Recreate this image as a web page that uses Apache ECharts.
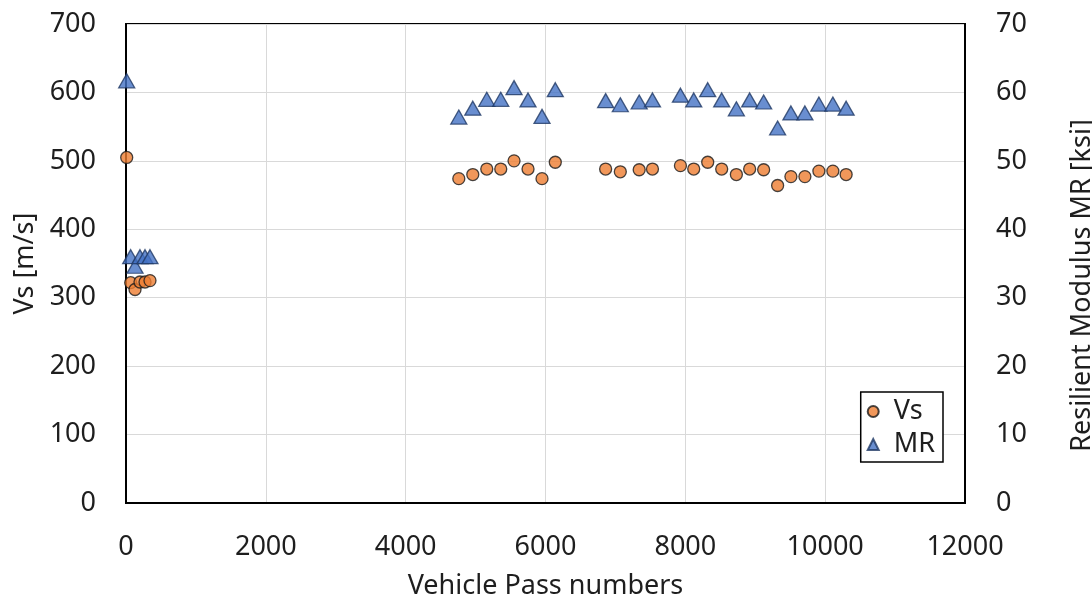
<!DOCTYPE html>
<html>
<head>
<meta charset="utf-8">
<script src="https://cdn.jsdelivr.net/npm/echarts@6/dist/echarts.min.js"></script>
<style>
html,body{margin:0;padding:0;background:#fff;}
#chart{width:1092px;height:605px;}
</style>
</head>
<body>
<div id="chart"></div>
<script>
// Data
const passNumbers = [10, 67, 129, 200, 272, 343, 4760, 4960, 5160, 5360, 5550, 5750, 5950, 6140, 6860, 7070, 7340, 7530, 7930, 8120, 8320, 8520, 8730, 8920, 9120, 9320, 9510, 9710, 9910, 10110, 10300];
const vsValues = [505, 322, 312, 323, 323, 325, 474, 480, 488, 488, 500, 488, 474, 498, 488, 484, 487, 488, 493, 488, 498, 488, 480, 488, 487, 464, 477, 477, 485, 485, 480];
const mrValues = [61.7, 36.0, 34.6, 36.0, 36.0, 36.0, 56.4, 57.7, 59.0, 59.0, 60.7, 58.9, 56.5, 60.4, 58.8, 58.2, 58.6, 58.9, 59.6, 58.9, 60.4, 58.9, 57.6, 58.9, 58.6, 54.8, 57.0, 57.0, 58.3, 58.3, 57.7];
const seriesNames = ['Vs', 'MR'];
const axisTitles = { x: 'Vehicle Pass numbers', yLeft: 'Vs [m/s]', yRight: 'Resilient Modulus MR [ksi]' };

const FONT = 'Noto Sans';
const TXT = '#1e1e1e';
const FS = 27;
const chart = echarts.init(document.getElementById('chart'), null, { renderer: 'canvas' });

const labelStyle = { color: TXT, fontFamily: FONT, fontSize: FS };
const gridLine = { show: true, lineStyle: { color: '#d9d9d9', width: 1 } };

chart.setOption({
  backgroundColor: '#fff',
  animation: false,
  grid: { left: 126, top: 24, right: 127, bottom: 102, outerBoundsMode: 'none', containLabel: false,
          show: true, borderColor: '#000', borderWidth: 2, backgroundColor: 'transparent' },
  legend: {
    orient: 'vertical',
    right: 149,
    bottom: 143,
    backgroundColor: '#fff',
    borderColor: '#000',
    borderWidth: 1.5,
    borderRadius: 0,
    padding: [6, 8, 4, 6],
    itemGap: 6,
    itemWidth: 11,
    itemHeight: 11,
    textStyle: { color: TXT, fontFamily: FONT, fontSize: FS, padding: [0, 0, 0, 10] },
    data: [
      { name: seriesNames[0], icon: 'circle' },
      { name: seriesNames[1], icon: 'triangle' }
    ]
  },
  xAxis: {
    type: 'value', min: 0, max: 12000, interval: 2000,
    name: axisTitles.x, nameLocation: 'middle', nameGap: 70,
    nameTextStyle: { color: TXT, fontFamily: FONT, fontSize: FS },
    axisLine: { show: true, lineStyle: { color: '#000', width: 2 } },
    axisTick: { show: false },
    axisLabel: Object.assign({ margin: 31, formatter: v => String(v) }, labelStyle),
    splitLine: gridLine
  },
  yAxis: [
    {
      type: 'value', min: 0, max: 700, interval: 100, position: 'left',
      name: axisTitles.yLeft, nameLocation: 'middle', nameGap: 86, nameRotate: 90,
      nameTextStyle: { color: TXT, fontFamily: FONT, fontSize: FS },
      axisLine: { show: true, lineStyle: { color: '#000', width: 2 } },
      axisTick: { show: false },
      axisLabel: Object.assign({ margin: 30, formatter: v => String(v) }, labelStyle),
      splitLine: gridLine
    },
    {
      type: 'value', min: 0, max: 70, interval: 10, position: 'right',
      name: axisTitles.yRight, nameLocation: 'middle', nameGap: 104, nameRotate: 90,
      nameTextStyle: { color: TXT, fontFamily: FONT, fontSize: FS, padding: [0, 44, 0, 0] },
      axisLine: { show: true, lineStyle: { color: '#000', width: 2 } },
      axisTick: { show: false },
      axisLabel: Object.assign({ margin: 31 }, labelStyle),
      splitLine: { show: false }
    }
  ],
  series: [
    {
      name: seriesNames[0], type: 'scatter', yAxisIndex: 0,
      symbol: 'circle', symbolSize: 12,
      itemStyle: { color: '#ED7D31', borderColor: '#1a1a1a', borderWidth: 1.3 },
      data: passNumbers.map((x, i) => [x, vsValues[i]]),
      z: 3
    },
    {
      name: seriesNames[1], type: 'scatter', yAxisIndex: 1,
      symbol: 'triangle', symbolSize: [16, 14],
      itemStyle: { color: '#4472C4', borderColor: '#1F3864', borderWidth: 1.3 },
      data: passNumbers.map((x, i) => [x, mrValues[i]]),
      z: 4
    }
  ]
});
</script>
</body>
</html>
